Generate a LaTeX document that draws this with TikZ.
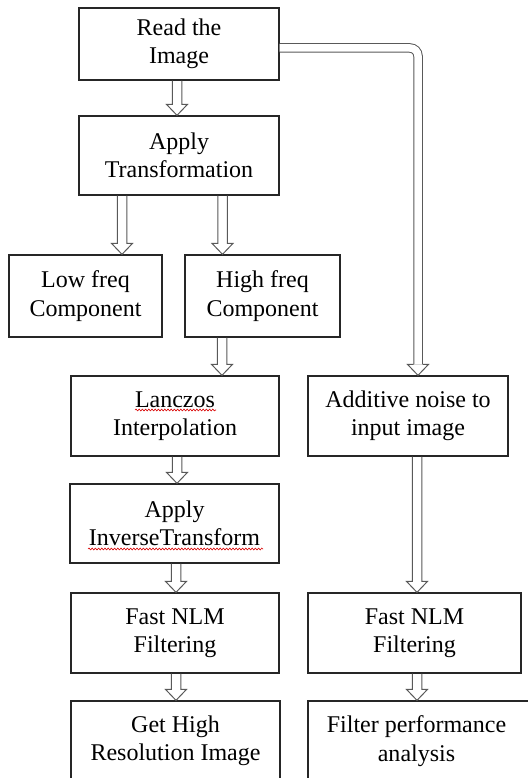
\documentclass[tikz,border=0pt]{standalone}
\usepackage{fontspec}
\setmainfont{Liberation Serif}
\usetikzlibrary{calc,decorations.pathmorphing}
\begin{document}
\begin{tikzpicture}[x=1bp,y=-1bp,
  box/.style={draw=black!85, line width=1.3bp, align=center, inner sep=0pt,
    font=\fontsize{24bp}{28.5bp}\selectfont},
  txt/.style={align=center, inner sep=0pt, font=\fontsize{24bp}{28.5bp}\selectfont},
  fat/.style={draw=black!65, line width=1bp, line join=miter,
    to path={let \p1=(\tikztostart), \p2=(\tikztotarget) in
      (\x1-4.75bp,\y1) -- (\x1-4.75bp,\y2+11bp) -- (\x1-10.5bp,\y2+11bp) -- (\x1,\y2)
      -- (\x1+10.5bp,\y2+11bp) -- (\x1+4.75bp,\y2+11bp) -- (\x1+4.75bp,\y1)}},
  dbl/.style={draw=black!65, line width=1bp, double=white, double distance=7.5bp, rounded corners=8bp},
  wavy/.style={draw=red!85!black, line width=0.6bp, decorate,
    decoration={snake, amplitude=0.9bp, segment length=3.2bp}}
]
\useasboundingbox (0,0) rectangle (528,778);
\clip (0,0) rectangle (528,778);
\fill[white] (0,0) rectangle (528,778);

\node[box, minimum width=200bp, minimum height=72bp] (r1) at (179,44) {Read the\\Image};
\node[box, minimum width=200bp, minimum height=79bp] (tr) at (179,155.5) {Apply\\Transformation};
\node[box, minimum width=153bp, minimum height=82bp] (lo) at (85.5,296) {Low freq\\Component};
\node[box, minimum width=155bp, minimum height=82bp] (hi) at (262.5,296) {High freq\\Component};
\node[box, minimum width=208bp, minimum height=80bp] (la) at (175,416) {Lanczos\\Interpolation};
\node[box, minimum width=200bp, minimum height=80bp] (ad) at (408,416) {Additive noise to\\input image};
\node[box, minimum width=209bp, minimum height=79bp] (iv) at (174.5,523.5) {Apply\\InverseTransform};
\node[box, minimum width=208bp, minimum height=80bp] (f1) at (175,633) {Fast NLM\\Filtering};
\node[box, minimum width=213bp, minimum height=80bp] (f2) at (414.5,633) {Fast NLM\\Filtering};
\node[box, minimum width=209bp, minimum height=80bp] (gh) at (175.5,741) {Get High\\Resolution Image};
\node[box, minimum width=230bp, minimum height=80bp] (fp) at (423,741) {};
\node[txt] (fpt) at (416.5,741) {Filter performance\\analysis};

\draw[fat] (r1.south -| 177,0) to (tr.north -| 177,0);
\draw[fat] (tr.south -| 122,0) to (lo.north -| 122,0);
\draw[fat] (tr.south -| 222.5,0) to (hi.north -| 222.5,0);
\draw[fat] (hi.south -| 222,0) to (la.north -| 222,0);
\draw[fat] (la.south -| 177,0) to (iv.north -| 177,0);
\draw[fat] (iv.south -| 176,0) to (f1.north -| 176,0);
\draw[fat] (f1.south -| 176,0) to (gh.north -| 176,0);
\draw[fat] (ad.south -| 417,0) to (f2.north -| 417,0);
\draw[fat] (f2.south -| 417,0) to (fp.north -| 417,0);

\coordinate (hb) at ($(ad.north -| 418,0)+(0,-11)$);
\draw[dbl] (r1.east |- 0,48) -| (hb);
\draw[fat] (hb) to (ad.north -| 418,0);

\draw[wavy] ($(la.center)+(-40,-6)$) -- ($(la.center)+(41,-6)$);
\draw[wavy] ($(iv.center)+(-86.5,25.5)$) -- ($(iv.center)+(88.5,25.5)$);
\end{tikzpicture}
\end{document}
